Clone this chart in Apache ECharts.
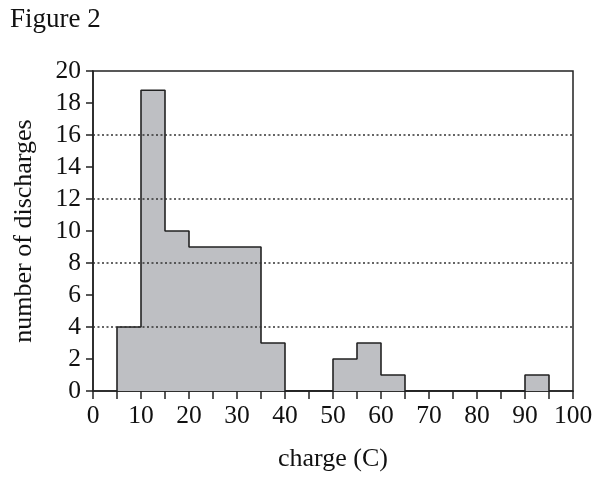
<!DOCTYPE html>
<html>
<head>
<meta charset="utf-8">
<script src="https://cdn.jsdelivr.net/npm/echarts@6/dist/echarts.min.js"></script>
<style>
html,body{margin:0;padding:0;background:#fff;}
#chart{width:607px;height:480px;}
</style>
</head>
<body>
<div id="chart"></div>
<script>
// Histogram bins (charge in C) and counts
const binStarts = [5, 10, 15, 20, 25, 30, 35, 40, 45, 50, 55, 60, 65, 70, 75, 80, 85, 90];
const binWidth = 5;
const counts =    [4, 18.8, 10, 9, 9, 9, 3, 0, 0, 2, 3, 1, 0, 0, 0, 0, 0, 1];
const gridLineValues = [4, 8, 12, 16];

// Outline points for step drawing (step at start: vertical at x, then horizontal)
const outline = [[binStarts[0], 0]];
binStarts.forEach((s, i) => outline.push([s + binWidth, counts[i]]));
outline.push([binStarts[binStarts.length - 1] + binWidth, 0]);

const font = '"Liberation Serif", "DejaVu Serif", serif';
const chart = echarts.init(document.getElementById('chart'), null, {renderer: 'canvas'});
chart.setOption({
  animation: false,
  backgroundColor: '#fff',
  title: {
    text: 'Figure 2',
    left: 5, top: 1,
    textStyle: {fontFamily: font, fontSize: 27, fontWeight: 'normal', color: '#111'}
  },
  grid: {
    left: 93, right: 34, top: 71, bottom: 89,
    show: true, borderColor: '#222', borderWidth: 1.5, backgroundColor: 'transparent'
  },
  xAxis: {
    type: 'value', min: 0, max: 100, interval: 5,
    name: 'charge (C)', nameLocation: 'middle', nameGap: 55,
    nameTextStyle: {fontFamily: font, fontSize: 26, color: '#111'},
    axisLine: {lineStyle: {color: '#222', width: 1.5}},
    axisTick: {show: true, length: 8, lineStyle: {color: '#222', width: 1.5}},
    axisLabel: {
      fontFamily: font, fontSize: 25.5, color: '#111', margin: 12,
      formatter: v => (v % 10 === 0 ? String(v) : '')
    },
    splitLine: {show: false}
  },
  yAxis: {
    type: 'value', min: 0, max: 20, interval: 2,
    name: 'number of discharges', nameLocation: 'middle', nameGap: 56, nameRotate: 90,
    nameTextStyle: {fontFamily: font, fontSize: 26, color: '#111'},
    axisLine: {show: true, lineStyle: {color: '#222', width: 1.5}},
    axisTick: {show: true, length: 7, lineStyle: {color: '#222', width: 1.5}},
    axisLabel: {fontFamily: font, fontSize: 25.5, color: '#111', margin: 12},
    splitLine: {show: false}
  },
  series: [{
    type: 'line',
    data: [],
    z: 1,
    silent: true,
    markLine: {
      silent: true,
      symbol: 'none',
      label: {show: false},
      lineStyle: {color: '#333', width: 1.6, type: [2, 2.5]},
      data: gridLineValues.map(v => ({yAxis: v}))
    }
  }, {
    type: 'line',
    step: 'start',
    data: outline,
    showSymbol: false,
    symbol: 'none',
    lineStyle: {color: '#222', width: 1.6},
    areaStyle: {color: '#bebfc3', opacity: 1},
    z: 3
  }]
});
</script>
</body>
</html>
